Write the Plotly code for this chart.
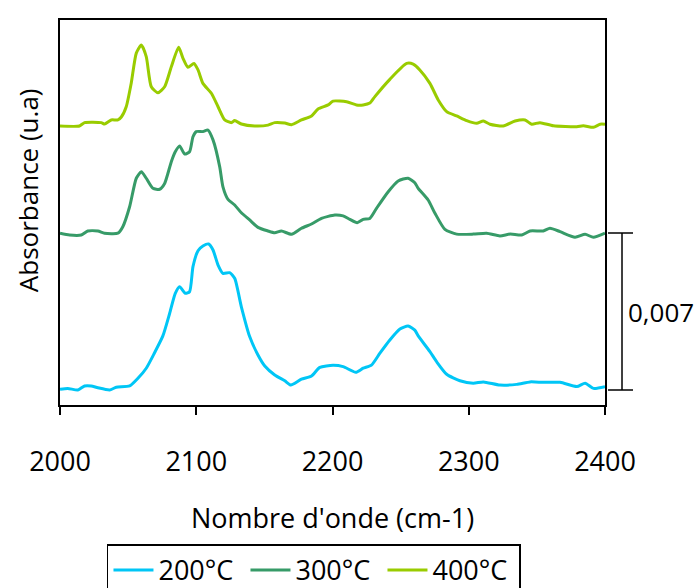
import plotly.graph_objects as go

# ---------------- data ----------------
series_names = ["200°C", "300°C", "400°C"]
series_colors = ["#00C6F6", "#379B68", "#99CC00"]

wn_200 = [2000, 2005.7, 2013.1, 2018, 2022.9, 2027.8, 2036.4, 2041.3, 2051.1, 2057.2,
          2063.3, 2069.4, 2075.5, 2080.5, 2084.6, 2087.8, 2092, 2095.1, 2097.6, 2101.3,
          2104.9, 2109.1, 2112.3, 2116, 2119.6, 2124.5, 2128.2, 2133.1, 2139.2, 2145.3,
          2150.3, 2157.6, 2165, 2169.4, 2177.2, 2184.6, 2190.7, 2200.4, 2207.8, 2217.1,
          2222.5, 2228.6, 2234.8, 2242.1, 2249.5, 2255.5, 2260.4, 2262.9, 2271.5, 2276.4,
          2283.8, 2293.5, 2303.3, 2310.7, 2322.9, 2335.2, 2345, 2354.7, 2367, 2379.3,
          2385.4, 2391.5, 2400]
abs_200 = [0.00070, 0.00074, 0.00067, 0.00085, 0.00085, 0.00077, 0.00067, 0.00079, 0.00085, 0.00119,
           0.00164, 0.00233, 0.00308, 0.00409, 0.00498, 0.00527, 0.00498, 0.00505, 0.00617, 0.00688,
           0.00709, 0.00718, 0.00691, 0.00624, 0.00587, 0.00590, 0.00565, 0.00438, 0.00305, 0.00223,
           0.00174, 0.00134, 0.00108, 0.00089, 0.00115, 0.00129, 0.00168, 0.00177, 0.00171, 0.00146,
           0.00164, 0.00178, 0.00231, 0.00290, 0.00339, 0.00352, 0.00334, 0.00308, 0.00238, 0.00193,
           0.00137, 0.00108, 0.00097, 0.00103, 0.00089, 0.00092, 0.00103, 0.00101, 0.00101, 0.00082,
           0.00097, 0.00074, 0.00082]

wn_300 = [2000, 2007, 2015.6, 2020.4, 2027.8, 2032.7, 2042.5, 2046.1, 2051.1, 2056,
          2059.7, 2063.3, 2068.2, 2073.1, 2076.8, 2081.7, 2084.6, 2087.8, 2091.5, 2095.1,
          2097.6, 2100, 2104.9, 2108.6, 2112.3, 2117.2, 2119.6, 2123.3, 2128.2, 2133.1,
          2139.2, 2145.3, 2152.7, 2157.6, 2162.5, 2169.9, 2177.2, 2184.6, 2191.9, 2201.7,
          2207.8, 2212.7, 2218.1, 2222.5, 2227.4, 2232.3, 2240.9, 2248.2, 2255.5, 2260.4,
          2262.9, 2270.2, 2275.2, 2282.5, 2291.1, 2303.3, 2313.1, 2322.9, 2330.3, 2338.9,
          2345, 2354.7, 2359.6, 2367, 2378, 2385.4, 2391.5, 2400]
abs_300 = [0.00766, 0.00758, 0.00758, 0.00776, 0.00776, 0.00766, 0.00766, 0.00795, 0.00884, 0.01011,
           0.01040, 0.01011, 0.00966, 0.00962, 0.00988, 0.01085, 0.01129, 0.01155, 0.01119, 0.01129,
           0.01196, 0.01219, 0.01219, 0.01226, 0.01182, 0.01063, 0.00973, 0.00917, 0.00892, 0.00857,
           0.00825, 0.00792, 0.00776, 0.00768, 0.00776, 0.00761, 0.00788, 0.00807, 0.00832, 0.00847,
           0.00843, 0.00828, 0.00813, 0.00828, 0.00832, 0.00877, 0.00951, 0.00999, 0.01011, 0.00991,
           0.00966, 0.00914, 0.00855, 0.00783, 0.00762, 0.00762, 0.00766, 0.00754, 0.00762, 0.00758,
           0.00776, 0.00776, 0.00788, 0.00773, 0.00748, 0.00761, 0.00748, 0.00766]

wn_400 = [2000, 2014.3, 2018, 2030.3, 2032.7, 2037.6, 2042.5, 2045, 2048.6, 2052.3,
          2056, 2059.7, 2063.3, 2067, 2071.9, 2076.8, 2081.7, 2087.1, 2090.2, 2093.9,
          2098.3, 2101.3, 2104.9, 2111.1, 2116, 2120.9, 2125.8, 2128.2, 2133.1, 2142.9,
          2152.7, 2157.6, 2165, 2169.9, 2177.2, 2184.6, 2189.4, 2196.8,
          2200.4, 2210.3, 2217.6, 2222.5, 2227.4, 2231.1, 2242.1, 2254.4, 2259.2, 2264.1,
          2271.5, 2277.6, 2283.8, 2291.1, 2298.5, 2305.8, 2310.7, 2315.6, 2325.3, 2334,
          2341.3, 2346.2, 2352.3, 2362.1, 2379.3, 2384.1, 2391.5, 2396.4, 2400]
abs_400 = [0.01244, 0.01244, 0.01259, 0.01259, 0.01253, 0.01271, 0.01271, 0.01284, 0.01330, 0.01436,
           0.01569, 0.01605, 0.01553, 0.01419, 0.01392, 0.01419, 0.01508, 0.01595, 0.01547, 0.01506,
           0.01523, 0.01494, 0.01434, 0.01390, 0.01330, 0.01271, 0.01259, 0.01268, 0.01253, 0.01244,
           0.01248, 0.01259, 0.01257, 0.01250, 0.01271, 0.01289, 0.01320, 0.01338,
           0.01355, 0.01352, 0.01338, 0.01338, 0.01346, 0.01375, 0.01452, 0.01523, 0.01520, 0.01494,
           0.01434, 0.01360, 0.01308, 0.01289, 0.01268, 0.01256, 0.01266, 0.01252, 0.01244, 0.01266,
           0.01271, 0.01252, 0.01259, 0.01245, 0.01241, 0.01245, 0.01238, 0.01252, 0.01252]

x_ticks = [2000, 2100, 2200, 2300, 2400]
x_range = [2000, 2400]
y_range = [0, 0.017166]

scale_bar_value = 0.007
scale_bar_base = 0.000669
scale_bar_label = "0,007"

x_title = "Nombre d'onde (cm-1)"
y_title = "Absorbance (u.a)"

# ---------------- figure ----------------
FONT = "Open Sans, Liberation Sans, sans-serif"

fig = go.Figure()
for name, color, wn, ab in zip(series_names, series_colors,
                               [wn_200, wn_300, wn_400],
                               [abs_200, abs_300, abs_400]):
    fig.add_trace(go.Scatter(x=wn, y=ab, mode="lines", name=name,
                             line=dict(color=color, width=3, shape="spline", smoothing=0.6)))

# scale bar (right of plot)
bx = 1.0312
cap_l, cap_r = 1.0055, 1.0514
y0 = scale_bar_base
y1 = scale_bar_base + scale_bar_value
for shp in [dict(x0=bx, x1=bx, y0=y0, y1=y1),
            dict(x0=cap_l, x1=cap_r, y0=y0, y1=y0),
            dict(x0=cap_l, x1=cap_r, y0=y1, y1=y1)]:
    fig.add_shape(type="line", xref="paper", yref="y",
                  line=dict(color="black", width=1.5), **shp)

fig.add_annotation(x=1.0385, y=(y0 + y1) / 2, xref="paper", yref="y",
                   text=scale_bar_label, showarrow=False,
                   xanchor="left", yanchor="middle",
                   font=dict(family=FONT, size=26, color="black"))

# y-axis title (placed slightly above centre, as in the reference)
fig.add_annotation(x=-0.0587, y=0.558, xref="paper", yref="paper",
                   text=y_title, showarrow=False, textangle=-90,
                   xanchor="center", yanchor="middle",
                   font=dict(family=FONT, size=26, color="black"))

fig.update_layout(
    width=696, height=588,
    margin=dict(l=60, r=91, t=20, b=183, autoexpand=False),
    paper_bgcolor="white", plot_bgcolor="white",
    font=dict(family=FONT, color="black"),
    showlegend=True,
    legend=dict(orientation="h", x=0.0862, xanchor="left",
                y=-0.362, yanchor="top",
                bordercolor="black", borderwidth=1.5,
                font=dict(family=FONT, size=27, color="black"),
                itemwidth=40, tracegroupgap=0,
                entrywidth=82, entrywidthmode="pixels"),
    xaxis=dict(range=x_range, tickvals=x_ticks, ticktext=[str(t) for t in x_ticks],
               ticks="outside", ticklen=8, tickwidth=1.5, tickcolor="black",
               showline=True, linecolor="black", linewidth=1.5, mirror=True,
               showgrid=False, zeroline=False, automargin=False,
               tickfont=dict(family=FONT, size=27, color="black"),
               ticklabelstandoff=24,
               title=dict(text=x_title, font=dict(family=FONT, size=27, color="black"),
                          standoff=31)),
    yaxis=dict(range=y_range, showticklabels=False, ticks="",
               showline=True, linecolor="black", linewidth=1.5, mirror=True,
               showgrid=False, zeroline=False, automargin=False),
)

fig.write_html("out.html",
               config={"displayModeBar": False},
               post_script="document.body.style.margin='0px';document.body.style.overflow='hidden';")
